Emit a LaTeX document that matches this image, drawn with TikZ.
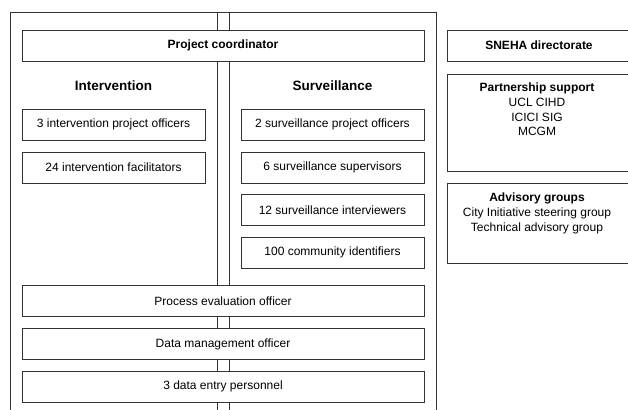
\documentclass[tikz,border=0pt]{standalone}
\usepackage{fontspec}
\setmainfont{Liberation Sans}
\usetikzlibrary{positioning}

\begin{document}
\begin{tikzpicture}[x=1pt, y=-1pt,
  rule/.style={draw=black!80, line width=0.9pt},
  box/.style={rule, fill=white, minimum height=31pt, inner sep=0pt, font=\fontsize{12}{15}\selectfont},
  wide/.style={box, minimum width=402pt},
  half/.style={box, minimum width=183pt},
  side/.style={box, minimum width=184pt},
  head/.style={font=\fontsize{13.5}{16}\selectfont\bfseries},
  list/.style={inner sep=0pt, align=center, anchor=north, font=\fontsize{12}{14.8}\selectfont}]
\useasboundingbox (0,0) rectangle (628,409);
\draw[rule] (10,12) rectangle (436,415);
\draw[rule] (217,12) rectangle (229,415);

\node[wide] (coord) at (223,45.5) {\bfseries Project coordinator};
\node[head] (interv) at (113.5,86) {Intervention};
\node[head] (surv) at (332.5,86) {Surveillance};

\node[half] (ipo) at (113.5,124.5) {3 intervention project officers};
\node[half] (ifac) at (113.5,167.5) {24 intervention facilitators};

\node[half] (spo) at (332.5,124.5) {2 surveillance project officers};
\node[half] (ssup) at (332.5,167.5) {6 surveillance supervisors};
\node[half] (sint) at (332.5,210) {12 surveillance interviewers};
\node[half] (cid) at (332.5,252.5) {100 community identifiers};

\node[wide] (peo) at (223,301) {Process evaluation officer};
\node[wide] (dmo) at (223,344) {Data management officer};
\node[wide] (dep) at (223,386.5) {3 data entry personnel};

\node[side] (sneha) at (539,45.5) {\bfseries SNEHA directorate};
\node[side, minimum height=97pt] (partner) at (539,122.5) {};
\node[list] (partnerList) at (537,82.7) {\bfseries Partnership support\\UCL CIHD\\ICICI SIG\\MCGM};
\node[side, minimum height=80pt] (advisory) at (539,223) {};
\node[list] (advisoryList) at (537,192.7) {\bfseries Advisory groups\\City Initiative steering group\\Technical advisory group};
\end{tikzpicture}
\end{document}
